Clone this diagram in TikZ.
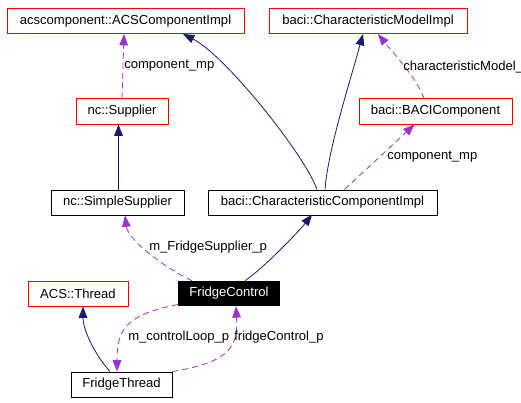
\documentclass[tikz,border=0pt]{standalone}
\usepackage{fontspec}
\setmainfont{Liberation Sans}
\usetikzlibrary{arrows.meta,calc}
\definecolor{inheritblue}{HTML}{191970}
\definecolor{usepurple}{HTML}{9A32CD}

\begin{document}
\begin{tikzpicture}[x=0.75pt,y=-0.75pt,
		font=\fontsize{9.8}{11}\selectfont,
		cls/.style={draw=red,line width=0.75pt,minimum height=18.75pt,inner sep=0pt},
		plain/.style={draw=black,line width=0.75pt,minimum height=18.75pt,inner sep=0pt},
		current/.style={fill=black,text=white,minimum height=18.75pt,inner sep=0pt},
		inherit/.style={inheritblue,line width=0.6pt,-{Triangle[length=8.5pt,width=6.5pt]}},
		uses/.style={usepurple,line width=0.6pt,dash pattern=on 4.5pt off 3pt,-{Triangle[length=8.5pt,width=6.5pt]}},
		lbl/.style={anchor=west,inner sep=0pt}]
		\useasboundingbox (0,0) rectangle (521,403);
		\node[cls,minimum width=177.75pt] (acs) at (125.5,21) {acscomponent::ACSComponentImpl};
		\node[cls,minimum width=148.5pt] (cmi) at (368,21) {baci::CharacteristicModelImpl};
		\node[cls,minimum width=69pt] (sup) at (122,111.5) {nc::Supplier};
		\node[cls,minimum width=114.75pt] (bc) at (435.5,111.5) {baci::BACIComponent};
		\node[plain,minimum width=99.75pt] (ss) at (117.5,202.5) {nc::SimpleSupplier};
		\node[plain,minimum width=171.75pt] (cci) at (322.5,202.5) {baci::CharacteristicComponentImpl};
		\node[current,minimum width=76.5pt] (fc) at (229,293.5) {FridgeControl};
		\node[cls,minimum width=75pt] (thr) at (78,293.5) {ACS::Thread};
		\node[plain,minimum width=75.75pt] (ft) at (121.5,384.5) {FridgeThread};
		\draw[inherit] ($(cci.north)+(-5.5,0)$) .. controls (305,155) and (225,55) .. ($(acs.south)+(57.5,0)$);
		\draw[inherit] ($(cci.north)+(2.5,0)$) .. controls (328,150) and (349,85) .. ($(cmi.south)+(-5,0)$);
		\draw[inherit] ($(ss.north)+(1,0)$) -- ($(sup.south)+(-3.5,0)$);
		\draw[inherit] ($(fc.north)+(16,0)$) .. controls (265,267) and (300,230) .. ($(cci.north)+(-10.5,25)$);
		\draw[inherit] ($(ft.north)+(-11.5,0)$) .. controls (95,355) and (83,330) .. ($(thr.south)+(5,0)$);
		\draw[uses] (sup.north) -- ($(acs.south)+(-1.5,0)$);
		\node[lbl] (l1) at (124,66) {component\_mp};
		\draw[uses] ($(bc.north)+(-11.5,0)$) .. controls (418,80) and (395,55) .. ($(cmi.south)+(10,0)$);
		\node[lbl] (l2) at (403,67) {characteristicModel\_};
		\draw[uses] ($(cci.north)+(22,0)$) -- ($(bc.south)+(-21,0)$);
		\node[lbl] (l3) at (387,157) {component\_mp};
		\draw[uses] ($(fc.north)+(-37,0)$) .. controls (165,268) and (128,240) .. ($(ss.south)+(7.5,0)$);
		\node[lbl] (l4) at (149,247) {m\_FridgeSupplier\_p};
		\draw[uses] ($(fc.west)+(0,11)$) .. controls (125,315) and (117,330) .. ($(ft.north)+(-4.5,0)$);
		\node[lbl] (l5) at (128,337) {m\_controlLoop\_p};
		\draw[uses] (ft.north east) .. controls (232,362) and (238,345) .. ($(fc.south)+(7,0)$);
		\node[lbl] (l6) at (234,337) {fridgeControl\_p};
\end{tikzpicture}
\end{document}
